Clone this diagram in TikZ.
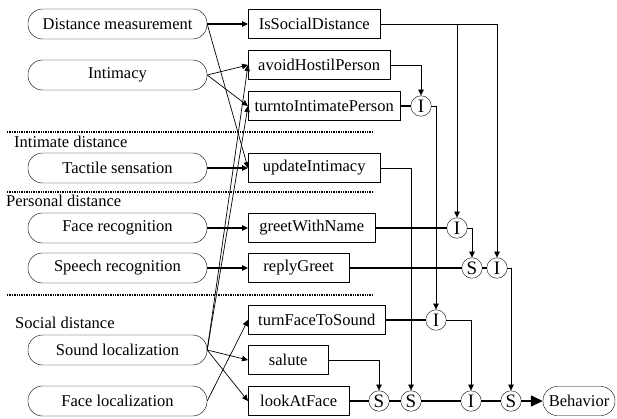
\documentclass[tikz,border=0pt]{standalone}
\usepackage{fontspec}
\setmainfont{Liberation Serif}
\newfontfamily\diagfont{Liberation Serif}
\usetikzlibrary{arrows.meta}
\begin{document}
\begin{tikzpicture}[x=1pt, y=-1pt, >={Triangle[length=6pt,width=5.5pt]},
    every node/.style={font=\diagfont\fontsize{16.5}{18}\selectfont},
    sense/.style={draw, rounded corners=14.5pt, minimum width=179pt, minimum height=30pt, inner sep=0pt},
    act/.style={draw, anchor=west, minimum height=29pt, inner sep=0pt},
    op/.style={draw, circle, minimum size=20.5pt, inner sep=0pt, font=\diagfont\fontsize{19}{20}\selectfont},
    zone/.style={anchor=west, inner sep=0pt},
    wire/.style={line width=0.7pt},
    bold/.style={line width=1.4pt},
    sep/.style={line width=1.3pt, dash pattern=on 1.3pt off 1.1pt}]
  \useasboundingbox (0,0) rectangle (617,418);
  % Sensors
  \node[sense] (dm) at (117.5,24) {Distance measurement};
  \node[sense] (intim) at (117.5,75) {Intimacy};
  \node[sense] (tact) at (117.5,168) {Tactile sensation};
  \node[sense] (facerec) at (117.5,228) {Face recognition};
  \node[sense] (speech) at (117.5,268) {Speech recognition};
  \node[sense] (soundloc) at (117.5,350) {Sound localization};
  \node[sense] (faceloc) at (117.5,401) {Face localization};
  % Actions
  \node[act, minimum width=132pt] (isd) at (248,24) {IsSocialDistance};
  \node[act, minimum width=142pt] (avoid) at (248,65) {avoidHostilPerson};
  \node[act, minimum width=152pt] (turnto) at (248,106) {turntoIntimatePerson};
  \node[act, minimum width=132pt] (upd) at (248,168) {updateIntimacy};
  \node[act, minimum width=127pt] (greet) at (248,228) {greetWithName};
  \node[act, minimum width=101pt] (reply) at (248,268) {replyGreet};
  \node[act, minimum width=137pt] (turnface) at (248,320) {turnFaceToSound};
  \node[act, minimum width=80pt] (salute) at (248,360) {salute};
  \node[act, minimum width=101pt] (look) at (248,401) {lookAtFace};
  % Operators
  \node[op] (i0) at (421,106) {I};
  \node[op] (i1) at (457,228) {I};
  \node[op] (s1) at (472,268) {S};
  \node[op] (i2) at (497,268) {I};
  \node[op] (i3) at (436,320) {I};
  \node[op] (sa) at (379,401) {S};
  \node[op] (sb) at (411,401) {S};
  \node[op] (i4) at (471,401) {I};
  \node[op] (sc) at (511,401) {S};
  \node[draw, rounded corners=14pt, minimum width=72pt, minimum height=29pt, inner sep=0pt] (beh) at (579,401) {Behavior};
  % Distance zones
  \draw[sep] (7,132) -- (372,132);
  \draw[sep] (7,192) -- (372,192);
  \draw[sep] (7,295) -- (372,295);
  \node[zone] (zintim) at (14,142) {Intimate distance};
  \node[zone] (zpers) at (6,201) {Personal distance};
  \node[zone] (zsoc) at (15,323) {Social distance};
  % Sensors to actions
  \draw[bold,->] (dm) -- (isd);
  \draw[wire,->] (dm.east) -- (upd.west);
  \draw[wire,->] (intim.east) -- (avoid.west);
  \draw[wire,->] (intim.east) -- (turnto.west);
  \draw[bold,->] (tact) -- (upd);
  \draw[bold,->] (facerec) -- (greet);
  \draw[bold,->] (speech) -- (reply);
  \draw[wire,->] (soundloc.east) -- (avoid.west);
  \draw[wire,->] (soundloc.east) -- (turnto.west);
  \draw[wire,->] (soundloc.east) -- (salute.west);
  \draw[wire,->] (soundloc.east) -- (look.west);
  \draw[wire,->] (faceloc.east) -- (turnface.west);
  % Actions to operators
  \draw[wire,->] (isd.east) -| (i1.north);
  \draw[wire,->] (isd.east) -| (i2.north);
  \draw[wire,->] (avoid.east) -| (i0.north);
  \draw[bold] (turnto) -- (i0);
  \draw[wire,->] (i0.east) -| (i3.north);
  \draw[wire,->] (upd.east) -| (sb.north);
  \draw[bold] (greet) -- (i1);
  \draw[wire,->] (i1.east) -| (s1.north);
  \draw[bold] (reply) -- (s1);
  \draw[bold] (s1) -- (i2);
  \draw[wire,->] (i2.east) -| (sc.north);
  \draw[bold] (turnface) -- (i3);
  \draw[wire,->] (i3.east) -| (i4.north);
  \draw[wire,->] (salute.east) -| (sa.north);
  \draw[bold] (look) -- (sa) -- (sb) -- (i4) -- (sc);
  \draw[bold,-{Triangle[length=12pt,width=11pt]}] (sc) -- (beh);
\end{tikzpicture}
\end{document}
